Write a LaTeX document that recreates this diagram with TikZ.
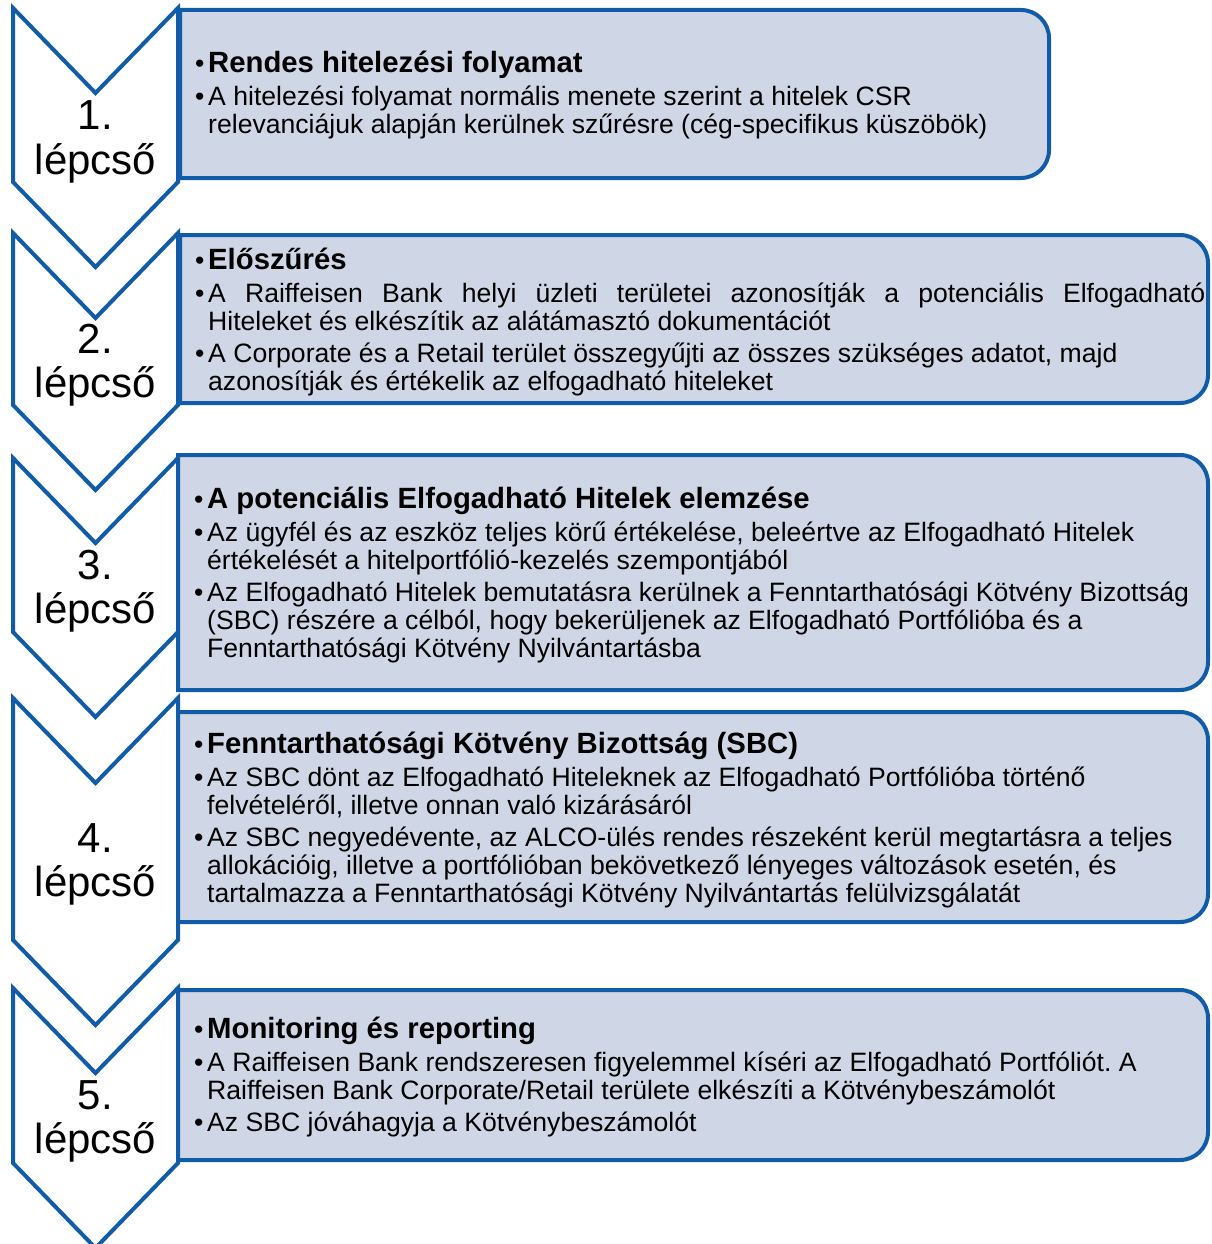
\documentclass[tikz,border=0pt]{standalone}
\usepackage{fontspec}
\setmainfont{Liberation Sans}
\frenchspacing
\definecolor{bd}{RGB}{16,92,168}
\definecolor{fl}{RGB}{207,214,229}
\tikzset{
  chev/.style={draw=bd, line width=4pt, fill=white, line join=miter},
  panel/.style={draw=bd, line width=4pt, fill=fl},
  stepnum/.style={font=\fontsize{42pt}{44pt}\selectfont, inner sep=0pt, anchor=base},
  txt/.style={inner sep=0pt, anchor=base west, text=black},
}
\newcommand\bul{\makebox[13pt][l]{\textbullet}}
\newcommand\ttlline[1]{\noindent\bul\textbf{\fontsize{29.3pt}{28pt}\selectfont #1}\par\vspace{1pt}}
\newcommand\itemp[1]{\hangindent=13pt\hangafter=1\noindent\bul #1\par}
\newcommand\boxtext[1]{\parbox[t]{1100pt}{\raggedright\frenchspacing\fontsize{26.6pt}{28pt}\selectfont\parskip=4pt #1}}
\begin{document}
\begin{tikzpicture}[x=1pt,y=1pt]
\useasboundingbox (0,0) rectangle (1211,-1244);
% chevrons
\draw[chev] (13,-8) -- (95.5,-93) -- (178,-8) -- (178,-182) -- (95.5,-267) -- (13,-182) -- cycle;
\draw[chev] (13,-233) -- (95.5,-318) -- (178,-233) -- (178,-405) -- (95.5,-490) -- (13,-405) -- cycle;
\draw[chev] (13,-458) -- (95.5,-543) -- (178,-458) -- (178,-632) -- (95.5,-717) -- (13,-632) -- cycle;
\draw[chev] (13,-698) -- (95.5,-783) -- (178,-698) -- (178,-940) -- (95.5,-1025) -- (13,-940) -- cycle;
\draw[chev] (13,-988) -- (95.5,-1073) -- (178,-988) -- (178,-1163) -- (95.5,-1248) -- (13,-1163) -- cycle;
% panels
\draw[panel] (180,-10) -- (1021,-10) arc[start angle=90,end angle=0,radius=28] -- (1049,-150) arc[start angle=0,end angle=-90,radius=28] -- (180,-178) -- cycle;
\draw[panel] (180,-235) -- (1180,-235) arc[start angle=90,end angle=0,radius=28] -- (1208,-375) arc[start angle=0,end angle=-90,radius=28] -- (180,-403) -- cycle;
\draw[panel] (178,-455) -- (1180,-455) arc[start angle=90,end angle=0,radius=28] -- (1208,-662) arc[start angle=0,end angle=-90,radius=28] -- (178,-690) -- cycle;
\draw[panel] (178,-712) -- (1180,-712) arc[start angle=90,end angle=0,radius=28] -- (1208,-894) arc[start angle=0,end angle=-90,radius=28] -- (178,-922) -- cycle;
\draw[panel] (178,-990) -- (1180,-990) arc[start angle=90,end angle=0,radius=28] -- (1208,-1132) arc[start angle=0,end angle=-90,radius=28] -- (178,-1160) -- cycle;
% step labels
\node[stepnum] (n1) at (95.5,-130) {1.};
\node[stepnum] (l1) at (95.5,-174) {lépcső};
\node[stepnum] (n2) at (95.5,-353) {2.};
\node[stepnum] (l2) at (95.5,-397) {lépcső};
\node[stepnum] (n3) at (95.5,-579) {3.};
\node[stepnum] (l3) at (95.5,-623) {lépcső};
\node[stepnum] (n4) at (95.5,-852.5) {4.};
\node[stepnum] (l4) at (95.5,-896.5) {lépcső};
\node[stepnum] (n5) at (95.5,-1109) {5.};
\node[stepnum] (l5) at (95.5,-1153) {lépcső};
% texts
\node[txt] (t1) at (195,-73) {\boxtext{%
\ttlline{Rendes hitelezési folyamat}
\itemp{A hitelezési folyamat normális menete szerint a hitelek CSR\newline relevanciájuk alapján kerülnek szűrésre (cég-specifikus küszöbök)}}};
\node[txt] (t2) at (195,-269) {\boxtext{%
\ttlline{Előszűrés}
\itemp{\makebox[997pt][s]{A Raiffeisen Bank helyi üzleti területei azonosítják a potenciális Elfogadható}\newline Hiteleket és elkészítik az alátámasztó dokumentációt}
\itemp{A Corporate és a Retail terület összegyűjti az összes szükséges adatot, majd\newline azonosítják és értékelik az elfogadható hiteleket}}};
\node[txt] (t3) at (194,-508) {\boxtext{%
\ttlline{A potenciális Elfogadható Hitelek elemzése}
\itemp{Az ügyfél és az eszköz teljes körű értékelése, beleértve az Elfogadható Hitelek\newline értékelését a hitelportfólió-kezelés szempontjából}
\itemp{Az Elfogadható Hitelek bemutatásra kerülnek a Fenntarthatósági Kötvény Bizottság\newline (SBC) részére a célból, hogy bekerüljenek az Elfogadható Portfólióba és a\newline Fenntarthatósági Kötvény Nyilvántartásba}}};
\node[txt] (t4) at (194,-753) {\boxtext{%
\ttlline{Fenntarthatósági Kötvény Bizottság (SBC)}
\itemp{Az SBC dönt az Elfogadható Hiteleknek az Elfogadható Portfólióba történő\newline felvételéről, illetve onnan való kizárásáról}
\itemp{Az SBC negyedévente, az ALCO-ülés rendes részeként kerül megtartásra a teljes\newline allokációig, illetve a portfólióban bekövetkező lényeges változások esetén, és\newline tartalmazza a Fenntarthatósági Kötvény Nyilvántartás felülvizsgálatát}}};
\node[txt] (t5) at (194,-1038) {\boxtext{%
\ttlline{Monitoring és reporting}
\itemp{A Raiffeisen Bank rendszeresen figyelemmel kíséri az Elfogadható Portfóliót. A\newline Raiffeisen Bank Corporate/Retail területe elkészíti a Kötvénybeszámolót}
\itemp{Az SBC jóváhagyja a Kötvénybeszámolót}}};
\end{tikzpicture}
\end{document}
